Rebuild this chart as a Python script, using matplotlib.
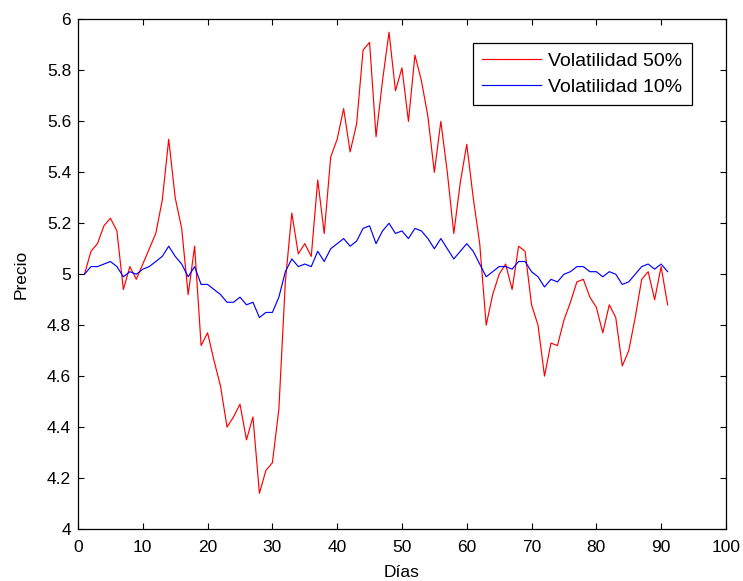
import matplotlib
matplotlib.use('Agg')
import matplotlib.pyplot as plt

plt.rcParams['font.family'] = ['Liberation Sans', 'DejaVu Sans']

# días de la simulación
dias = list(range(1, 92))

# precio simulado con volatilidad 50%
precio_50 = [
    5.00, 5.09, 5.12, 5.19, 5.22, 5.17, 4.94, 5.03, 4.98, 5.04,
    5.10, 5.16, 5.29, 5.53, 5.30, 5.18, 4.92, 5.11, 4.72, 4.77,
    4.66, 4.56, 4.40, 4.44, 4.49, 4.35, 4.44, 4.14, 4.23, 4.26,
    4.47, 4.97, 5.24, 5.08, 5.12, 5.07, 5.37, 5.16, 5.46, 5.53,
    5.65, 5.48, 5.59, 5.88, 5.91, 5.54, 5.76, 5.95, 5.72, 5.81,
    5.60, 5.86, 5.76, 5.62, 5.40, 5.60, 5.40, 5.16, 5.36, 5.51,
    5.30, 5.12, 4.80, 4.92, 5.00, 5.04, 4.94, 5.11, 5.09, 4.88,
    4.80, 4.60, 4.73, 4.72, 4.82, 4.89, 4.97, 4.98, 4.91, 4.87,
    4.77, 4.88, 4.83, 4.64, 4.70, 4.83, 4.98, 5.01, 4.90, 5.03,
    4.88,
]

# precio simulado con volatilidad 10%
precio_10 = [
    5.00, 5.03, 5.03, 5.04, 5.05, 5.03, 4.99, 5.01, 5.00, 5.02,
    5.03, 5.05, 5.07, 5.11, 5.07, 5.04, 4.99, 5.03, 4.96, 4.96,
    4.94, 4.92, 4.89, 4.89, 4.91, 4.88, 4.89, 4.83, 4.85, 4.85,
    4.91, 5.01, 5.06, 5.03, 5.04, 5.03, 5.09, 5.05, 5.10, 5.12,
    5.14, 5.11, 5.13, 5.18, 5.19, 5.12, 5.17, 5.20, 5.16, 5.17,
    5.14, 5.18, 5.17, 5.14, 5.10, 5.14, 5.10, 5.06, 5.09, 5.12,
    5.09, 5.04, 4.99, 5.01, 5.03, 5.03, 5.02, 5.05, 5.05, 5.01,
    4.99, 4.95, 4.98, 4.97, 5.00, 5.01, 5.03, 5.03, 5.01, 5.01,
    4.99, 5.01, 5.00, 4.96, 4.97, 5.00, 5.03, 5.04, 5.02, 5.04,
    5.01,
]

fig = plt.figure(figsize=(7.43, 5.81), dpi=100)
ax = fig.add_axes([0.105, 0.0895, 0.872, 0.877])

ax.plot(dias, precio_50, color='#ff0000', linewidth=0.85, label='Volatilidad 50%')
ax.plot(dias, precio_10, color='#0000ff', linewidth=0.85, label='Volatilidad 10%')

ax.set_xlim(0, 100)
ax.set_ylim(4, 6)
ax.set_xticks(range(0, 101, 10))
ax.set_yticks([4, 4.2, 4.4, 4.6, 4.8, 5, 5.2, 5.4, 5.6, 5.8, 6])
ax.set_yticklabels(['4', '4.2', '4.4', '4.6', '4.8', '5', '5.2', '5.4', '5.6', '5.8', '6'])

ax.tick_params(direction='in', top=True, right=True, length=4, width=0.8,
               labelsize=12.5)
ax.tick_params(axis='x', pad=8)
ax.tick_params(axis='y', pad=5)
for s in ax.spines.values():
    s.set_linewidth(0.9)

ax.set_xlabel('Días', fontsize=12.5, labelpad=7)
ax.set_ylabel('Precio', fontsize=12.5, labelpad=13)

leg = ax.legend(loc='upper right', bbox_to_anchor=(0.948, 0.954), borderaxespad=0,
                fontsize=14, fancybox=False, framealpha=1, edgecolor='black',
                handlelength=3.0, handletextpad=0.4, labelspacing=0.4,
                borderpad=0.5)
leg.get_frame().set_linewidth(0.9)

fig.savefig('out.png', dpi=100)
